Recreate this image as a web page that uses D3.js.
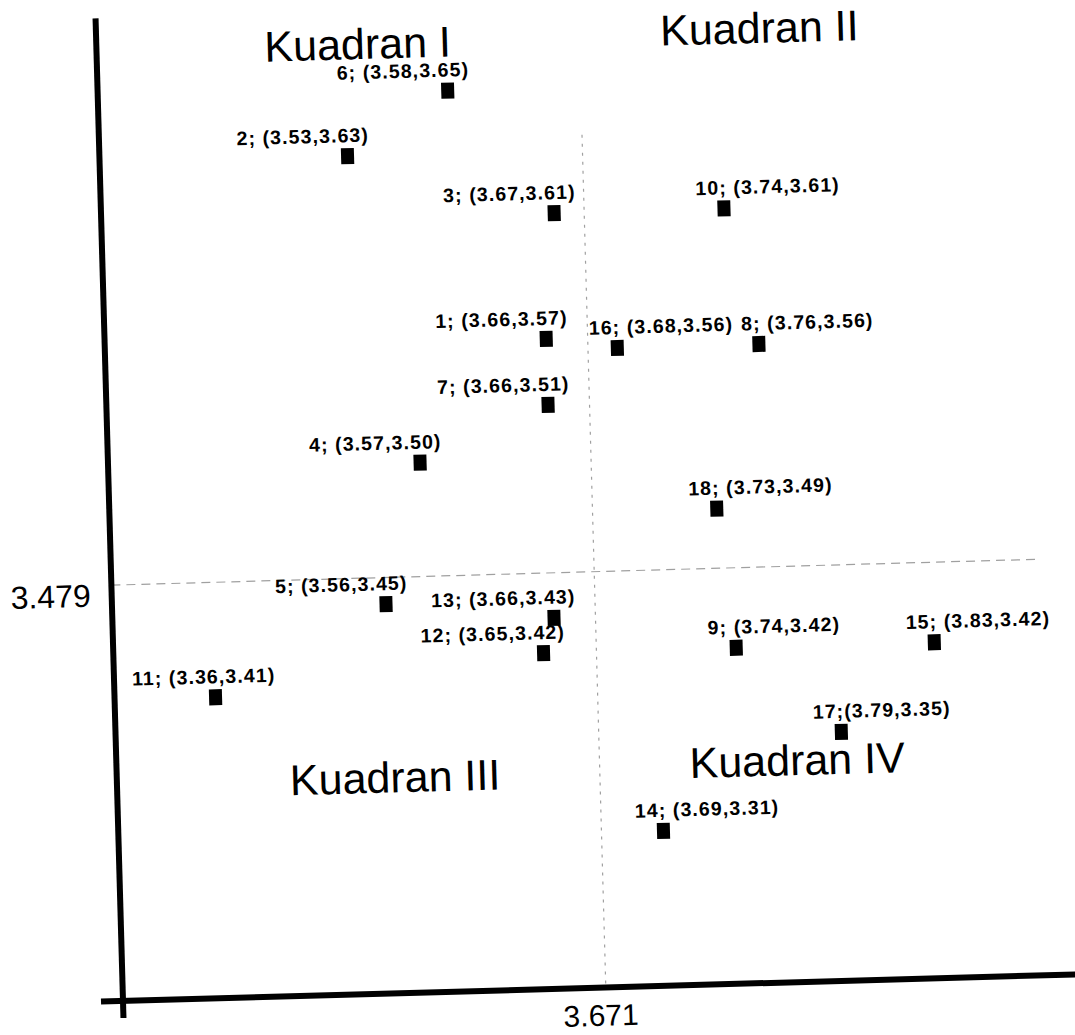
<!DOCTYPE html>
<head>
<meta charset="utf-8">
<title>Kuadran</title>
<script src="https://d3js.org/d3.v7.min.js"></script>
<style>
  body { margin: 0; background: #fff; }
  text { font-family: "Liberation Sans", Arial, sans-serif; }
</style>
</head>
<body>
<div id="chart"></div>
<script>

  // data (point number, x value, y value, printed label)
  var ids    = [1, 2, 3, 4, 5, 6, 7, 8, 9, 10, 11, 12, 13, 14, 15, 16, 17, 18];
  var xVals  = [3.66, 3.53, 3.67, 3.57, 3.56, 3.58, 3.66, 3.76, 3.74, 3.74, 3.36, 3.65, 3.66, 3.69, 3.83, 3.68, 3.79, 3.73];
  var yVals  = [3.57, 3.63, 3.61, 3.50, 3.45, 3.65, 3.51, 3.56, 3.42, 3.61, 3.41, 3.42, 3.43, 3.31, 3.42, 3.56, 3.35, 3.49];
  var labels = ["1; (3.66,3.57)", "2; (3.53,3.63)", "3; (3.67,3.61)", "4; (3.57,3.50)",
                "5; (3.56,3.45)", "6; (3.58,3.65)", "7; (3.66,3.51)", "8; (3.76,3.56)",
                "9; (3.74,3.42)", "10; (3.74,3.61)", "11; (3.36,3.41)", "12; (3.65,3.42)",
                "13; (3.66,3.43)", "14; (3.69,3.31)", "15; (3.83,3.42)", "16; (3.68,3.56)",
                "17;(3.79,3.35)", "18; (3.73,3.49)"];
  var xMean = 3.671, yMean = 3.479;
  var quadrants = ["Kuadran I", "Kuadran II", "Kuadran III", "Kuadran IV"];

  var data = ids.map(function(d, i) {
    return {id: d, x: xVals[i], y: yVals[i], label: labels[i]};
  });

  var svg = d3.select("#chart")
    .append("svg")
      .attr("width", 1075)
      .attr("height", 1035);

  // the scanned figure sits slightly tilted, origin at the axis corner
  var g = svg.append("g")
      .attr("transform", "translate(123,1001) rotate(-1.6)");

  // the hand-drawn axes are not evenly spaced, so the scales are piecewise
  var x = d3.scaleLinear()
    .domain([3.36, 3.56, 3.58, 3.67, xMean, 3.69, 3.76, 3.83])
    .range([101, 274, 350, 453, 483, 545, 654, 821]);

  var y = d3.scaleLinear()
    .domain([3.31, 3.35, 3.41, 3.43, yMean, 3.51, 3.57, 3.65])
    .range([-155, -249, -301, -371, -416, -584, -650, -901]);

  // mean lines
  g.append("line")
    .attr("x1", 0).attr("x2", 929)
    .attr("y1", y(yMean)).attr("y2", y(yMean))
    .style("stroke", "#a0a0a0")
    .style("stroke-width", 1.2)
    .style("stroke-dasharray", "9,6");

  g.append("line")
    .attr("x1", x(xMean)).attr("x2", x(xMean))
    .attr("y1", -853).attr("y2", 0)
    .style("stroke", "#a0a0a0")
    .style("stroke-width", 1.2)
    .style("stroke-dasharray", "3,6");

  // axis lines
  g.append("line")
    .attr("x1", 0).attr("x2", 0)
    .attr("y1", -983).attr("y2", 17)
    .style("stroke", "black")
    .style("stroke-width", 6);

  g.append("line")
    .attr("x1", -22).attr("x2", 980)
    .attr("y1", 0).attr("y2", 0)
    .style("stroke", "black")
    .style("stroke-width", 6);

  // single tick labels at the means
  var yAxis = g.append("g")
    .call(d3.axisLeft(y).tickValues([yMean]).tickSize(0).tickPadding(21).tickFormat(d3.format(".3f")));
  yAxis.select(".domain").remove();
  yAxis.selectAll("text")
    .attr("font-family", "Liberation Sans, Arial, sans-serif")
    .attr("font-size", 32)
    .attr("dy", "0.64em");

  var xAxis = g.append("g")
    .call(d3.axisBottom(x).tickValues([xMean]).tickSize(0).tickPadding(17).tickFormat(d3.format(".3f")));
  xAxis.select(".domain").remove();
  xAxis.selectAll("text")
    .attr("font-family", "Liberation Sans, Arial, sans-serif")
    .attr("font-size", 30)
    .attr("dx", -6);

  // quadrant names
  var qPos = [[168, -935], [564, -940], [173, -201], [573, -207]];
  g.selectAll(".quad")
    .data(quadrants)
    .enter()
    .append("text")
      .attr("class", "quad")
      .attr("x", function(d, i) { return qPos[i][0]; })
      .attr("y", function(d, i) { return qPos[i][1]; })
      .style("font-size", "43px")
      .text(function(d) { return d; });

  // points
  g.append("g")
    .selectAll("rect")
    .data(data)
    .enter()
    .append("rect")
      .attr("x", function(d) { return x(d.x) - 6.5; })
      .attr("y", function(d) { return y(d.y) - 8; })
      .attr("width", 13)
      .attr("height", 16)
      .style("fill", "black");

  // labels: left of the mean line end near the point, right of it start near the point
  var lbl = g.append("g")
    .selectAll("text")
    .data(data)
    .enter()
    .append("text")
      .attr("x", function(d) { return d.x < xMean ? x(d.x) + 22 : x(d.x) - 28; })
      .attr("y", function(d) { return y(d.y) - 14; })
      .attr("text-anchor", function(d) { return d.x < xMean ? "end" : "start"; })
      .style("font-size", "19.5px")
      .style("font-weight", "bold")
      .style("letter-spacing", "1.1px")
      .text(function(d) { return d.label; })
      .each(function(d) {
        // keep labels clear of the y axis
        var w = this.getComputedTextLength();
        if (d.x < xMean && x(d.x) + 22 - w < 18) {
          d3.select(this).attr("text-anchor", "start").attr("x", 18);
        }
      });

  // nudge a label to the right when it runs into one placed before it
  var placed = [];
  lbl.sort(function(a, b) { return a.x - b.x; }).each(function() {
    var b = this.getBBox();
    placed.forEach(function(p) {
      if (b.x < p.x + p.width + 6 && b.x + b.width > p.x &&
          b.y < p.y + p.height && b.y + b.height > p.y) {
        var shift = p.x + p.width + 8 - b.x;
        d3.select(this).attr("x", +d3.select(this).attr("x") + shift);
        b = this.getBBox();
      }
    }, this);
    placed.push(b);
  });

</script>
</body>
